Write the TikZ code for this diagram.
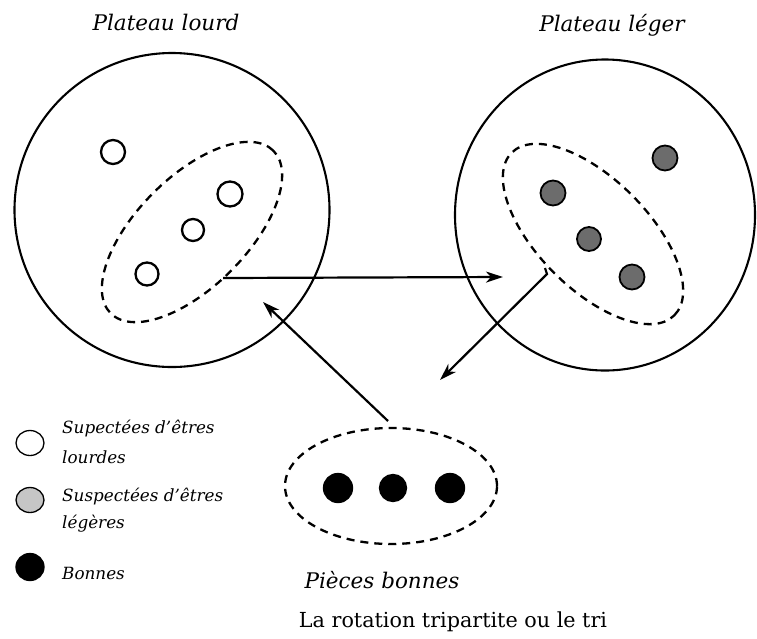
\documentclass[tikz,border=0pt]{standalone}
\usepackage{fontspec}
\setmainfont{DejaVu Serif}
\usetikzlibrary{shapes.geometric,arrows.meta}
\begin{document}
\begin{tikzpicture}[x=1pt,y=-1pt,
  plate/.style={draw,ellipse,line width=2.1pt,inner sep=0pt},
  grp/.style={draw,ellipse,line width=2.3pt,dash pattern=on 8pt off 6pt,inner sep=0pt},
  coin/.style={draw,circle,line width=2.3pt,inner sep=0pt,minimum size=#1},
  wcoin/.style={coin=#1,fill=white},
  gcoin/.style={coin=#1,fill=gray!85!black,line width=1.8pt},
  bcoin/.style={coin=#1,fill=black},
  conn/.style={line width=2.2pt,-{Stealth[length=17pt,width=11pt,inset=5pt]}},
  title/.style={font=\fontsize{21.5}{24}\selectfont\itshape,inner sep=0pt},
  leg/.style={font=\fontsize{16.8}{19}\selectfont\itshape,inner sep=0pt,anchor=west}]
\useasboundingbox (0,0) rectangle (757,638);
\fill[white] (0,0) rectangle (757,638);
% plates
\node[plate,minimum width=315pt,minimum height=314pt] (pl) at (172,210) {};
\node[plate,minimum width=300pt,minimum height=311pt] (pr) at (605,215) {};
\node[title] (tl) at (166,22) {Plateau lourd};
\node[title] (tr) at (612,25) {Plateau léger};
% group ellipses
\node[grp,minimum width=230pt,minimum height=110pt,rotate=45] (gl) at (192,232) {};
\node[grp,minimum width=230pt,minimum height=110pt,rotate=-45] (gr) at (593,234) {};
\node[grp,minimum width=212pt,minimum height=116pt] (gb) at (391,486) {};
% heavy-suspect coins
\node[wcoin=24pt] (h1) at (113,152) {};
\node[wcoin=25pt] (h2) at (230,194) {};
\node[wcoin=22pt] (h3) at (193,230) {};
\node[wcoin=23pt] (h4) at (147,274) {};
% light-suspect coins
\node[gcoin=25pt] (l1) at (665,158) {};
\node[gcoin=25pt] (l2) at (553,193) {};
\node[gcoin=24pt] (l3) at (589,239) {};
\node[gcoin=25pt] (l4) at (632,277) {};
% good coins
\node[bcoin=28pt] (b1) at (338,488) {};
\node[bcoin=26pt] (b2) at (393,488) {};
\node[bcoin=28pt] (b3) at (450,488) {};
\node[title] (tb) at (382,580) {Pièces bonnes};
% arrows
\coordinate (a1s) at (223,278);
\coordinate (a1e) at (503,277);
\draw[conn] (a1s) -- (a1e);
\coordinate (a2s) at (545,268);
\coordinate (a2k) at (547,274);
\coordinate (a2e) at (440,380);
\draw[conn] (a2s) -- (a2k) -- (a2e);
\coordinate (a3s) at (388,421);
\coordinate (a3e) at (263,302);
\draw[conn] (a3s) -- (a3e);
% legend
\node[draw,ellipse,line width=1.3pt,fill=white,minimum width=28pt,minimum height=25pt,inner sep=0pt] (k1) at (30,443) {};
\node[draw,ellipse,line width=1.3pt,fill=gray!45,minimum width=28pt,minimum height=25pt,inner sep=0pt] (k2) at (30,500) {};
\node[draw,ellipse,line width=1.3pt,fill=black,minimum width=28pt,minimum height=27pt,inner sep=0pt] (k3) at (30,567) {};
\node[leg] (t1a) at (62,429) {Supectées d'êtres};
\node[leg] (t1b) at (62,457) {lourdes};
\node[leg] (t2a) at (62,497) {Suspectées d'êtres};
\node[leg] (t2b) at (62,524) {légères};
\node[leg] (t3) at (62,573) {Bonnes};
% caption
\node[font=\fontsize{20.7}{23}\selectfont,inner sep=0pt] (cap) at (453,622) {La rotation tripartite ou le tri};
\end{tikzpicture}
\end{document}
